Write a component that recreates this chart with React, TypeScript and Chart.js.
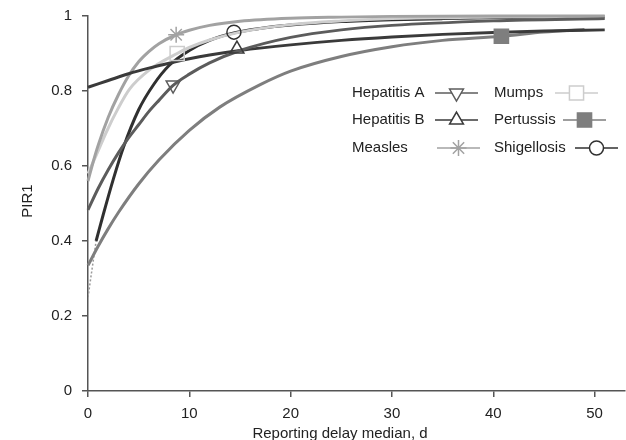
import React, { useEffect, useRef } from 'react';
import { Chart, registerables } from 'chart.js';
import { drawPoint } from 'chart.js/helpers';

Chart.register(...registerables);

// ---------- data ----------
const seriesNames = ['Hepatitis A', 'Hepatitis B', 'Measles', 'Mumps', 'Pertussis', 'Shigellosis'];
const xTitle = 'Reporting delay median, d';
const yTitle = 'PIR1';
const xTickValues = [0, 10, 20, 30, 40, 50];
const yTickValues = [0, 0.2, 0.4, 0.6, 0.8, 1];

const hepAX = [0, 1, 2, 3, 4, 5, 6, 7, 8.4, 10, 12, 15, 20, 25, 30, 40, 51];
const hepAY = [0.483, 0.54, 0.59, 0.635, 0.675, 0.71, 0.745, 0.775, 0.815, 0.845, 0.875, 0.908, 0.943, 0.963, 0.975, 0.987, 0.993];

const hepBX = [0, 2, 4, 6, 8, 10, 12, 15, 20, 25, 30, 35, 40, 45, 51];
const hepBY = [0.81, 0.828, 0.846, 0.861, 0.874, 0.886, 0.896, 0.908, 0.923, 0.935, 0.944, 0.951, 0.956, 0.96, 0.963];

const measlesX = [0, 0.5, 1, 2, 3, 4, 5, 6, 7, 8.7, 10, 12, 15, 20, 25, 30, 40, 51];
const measlesY = [0.56, 0.61, 0.655, 0.73, 0.79, 0.84, 0.878, 0.905, 0.926, 0.95, 0.962, 0.975, 0.986, 0.994, 0.997, 0.999, 1.0, 1.0];

const mumpsX = [0, 1, 1.8, 3, 4.1, 6, 8.8, 10, 12, 15, 20, 25, 30, 40, 51];
const mumpsY = [0.58, 0.64, 0.69, 0.755, 0.805, 0.855, 0.9, 0.916, 0.936, 0.957, 0.977, 0.987, 0.993, 0.997, 0.999];

const pertussisX = [0, 1, 2, 3, 5, 7, 10, 13, 17, 20, 25, 30, 35, 40.8, 45, 49];
const pertussisY = [0.335, 0.386, 0.433, 0.476, 0.552, 0.616, 0.695, 0.757, 0.817, 0.853, 0.892, 0.918, 0.935, 0.946, 0.957, 0.964];

const shigX = [0.8, 1.5, 2.5, 3.5, 5, 6.5, 8, 10, 12, 14.4, 17, 20, 25, 30, 35, 40, 45, 51];
const shigY = [0.4, 0.47, 0.565, 0.65, 0.75, 0.818, 0.868, 0.908, 0.935, 0.955, 0.967, 0.976, 0.985, 0.99, 0.993, 0.995, 0.997, 0.998];

const shigExtX = [0, 0.8];
const shigExtY = [0.25, 0.4];

const markerX = [8.4, 14.7, 8.7, 8.8, 40.8, 14.4];
const markerY = [0.816, 0.912, 0.95, 0.9, 0.946, 0.957];

// ---------- styles ----------
const FONT = '"Liberation Sans", Arial, Helvetica, sans-serif';
const T = 'rgba(0,0,0,0)';
const styles = [
  { color: '#5c5c5c', marker: 'triangle', rot: 180, r: 8, fill: T },
  { color: '#3a3a3a', marker: 'triangle', rot: 0, r: 8, fill: T },
  { color: '#a2a2a2', marker: 'star', rot: 0, r: 8, fill: T },
  { color: '#cdcdcd', marker: 'rect', rot: 0, r: 10, fill: T },
  { color: '#7e7e7e', marker: 'rect', rot: 0, r: 10, fill: '#7e7e7e' },
  { color: '#303030', marker: 'circle', rot: 0, r: 7, fill: T },
];
const legendTextX = [352, 352, 352, 494, 494, 494];
const legendRowY = [93, 120, 148, 93, 120, 148];
const legendSymX = [435, 435, 437, 555, 563, 575];
const legendSymLen = 43;

const zip = (xs: number[], ys: number[]) => xs.map((x, i) => ({ x, y: ys[i] }));

const curves = [
  [hepAX, hepAY],
  [hepBX, hepBY],
  [measlesX, measlesY],
  [mumpsX, mumpsY],
  [pertussisX, pertussisY],
  [shigX, shigY],
];

const overlayPlugin = {
  id: 'overlay',
  afterDraw(chart: any) {
    const ctx = chart.ctx as CanvasRenderingContext2D;
    ctx.save();
    ctx.fillStyle = '#222';
    ctx.font = `15px ${FONT}`;
    ctx.textAlign = 'center';
    ctx.textBaseline = 'middle';
    ctx.fillText(xTitle, 340, 434);
    ctx.save();
    ctx.translate(28, 201);
    ctx.rotate(-Math.PI / 2);
    ctx.fillText(yTitle, 0, 0);
    ctx.restore();

    // legend
    ctx.textAlign = 'left';
    seriesNames.forEach((name, i) => {
      const s = styles[i];
      ctx.fillStyle = '#222';
      ctx.font = `15px ${FONT}`;
      ctx.fillText(name, legendTextX[i], legendRowY[i]);
      const x0 = legendSymX[i];
      const y = legendRowY[i];
      ctx.strokeStyle = s.color;
      ctx.lineWidth = 1.5;
      ctx.beginPath();
      ctx.moveTo(x0, y);
      ctx.lineTo(x0 + legendSymLen, y);
      ctx.stroke();
      ctx.fillStyle = s.fill === T ? '#ffffff' : s.fill;
      ctx.strokeStyle = s.color;
      ctx.lineWidth = 1.5;
      drawPoint(ctx, { pointStyle: s.marker, radius: s.r, rotation: s.rot, borderWidth: 1.5 } as any, x0 + legendSymLen / 2, y);
    });
    ctx.restore();
  },
};

export default function App() {
  const ref = useRef<HTMLCanvasElement | null>(null);
  useEffect(() => {
    if (!ref.current) return;
    const datasets: any[] = [];
    markerX.forEach((x, i) => {
      const s = styles[i];
      datasets.push({
        label: seriesNames[i] + ' marker',
        data: [{ x, y: markerY[i] }],
        showLine: false,
        pointStyle: s.marker,
        pointRadius: s.r,
        pointRotation: s.rot,
        pointBorderColor: s.color,
        pointBackgroundColor: s.fill,
        pointBorderWidth: 1.5,
        order: 0,
        clip: false,
      });
    });
    curves.forEach(([xs, ys], i) => {
      datasets.push({
        label: seriesNames[i],
        data: zip(xs, ys),
        borderColor: styles[i].color,
        borderWidth: 3,
        pointRadius: 0,
        cubicInterpolationMode: 'monotone',
        fill: false,
        order: 1 + i,
        clip: 4,
      });
    });
    datasets.push({
      label: 'Shigellosis extrapolated',
      data: zip(shigExtX, shigExtY),
      borderColor: '#9a9a9a',
      borderWidth: 1.5,
      borderDash: [2, 2],
      pointRadius: 0,
      fill: false,
      order: 10,
    });

    const chart = new Chart(ref.current, {
      type: 'line',
      data: { datasets },
      plugins: [overlayPlugin],
      options: {
        responsive: false,
        animation: false,
        events: [],
        layout: { autoPadding: false, padding: { top: 16, right: 1, left: 0, bottom: 0 } },
        plugins: { legend: { display: false }, tooltip: { enabled: false } },
        scales: {
          x: {
            type: 'linear',
            min: 0,
            max: 53,
            afterFit: (s: any) => { s.height = 49; s.paddingLeft = 0; s.paddingRight = 0; },
            afterBuildTicks: (s: any) => { s.ticks = xTickValues.map((v) => ({ value: v })); },
            grid: { drawOnChartArea: false, drawTicks: true, tickLength: 6, color: '#555', lineWidth: 1.5 },
            border: { display: true, color: '#555', width: 1.5 },
            ticks: { padding: 8, color: '#222', font: { family: FONT, size: 15 } },
          },
          y: {
            type: 'linear',
            min: 0,
            max: 1,
            afterFit: (s: any) => { s.width = 88; s.paddingTop = 0; s.paddingBottom = 0; },
            afterBuildTicks: (s: any) => { s.ticks = yTickValues.map((v) => ({ value: v })); },
            grid: { drawOnChartArea: false, drawTicks: true, tickLength: 6, color: '#555', lineWidth: 1.5 },
            border: { display: true, color: '#555', width: 1.5 },
            ticks: { padding: 10, color: '#222', font: { family: FONT, size: 15 }, callback: (v: any) => String(v) },
          },
        },
      } as any,
    });
    return () => chart.destroy();
  }, []);
  return (
    <div style={{ position: 'absolute', left: 0, top: 0, width: 626, height: 440, background: '#fff' }}>
      <canvas ref={ref} width={626} height={440} style={{ display: 'block', width: 626, height: 440 }} />
    </div>
  );
}
